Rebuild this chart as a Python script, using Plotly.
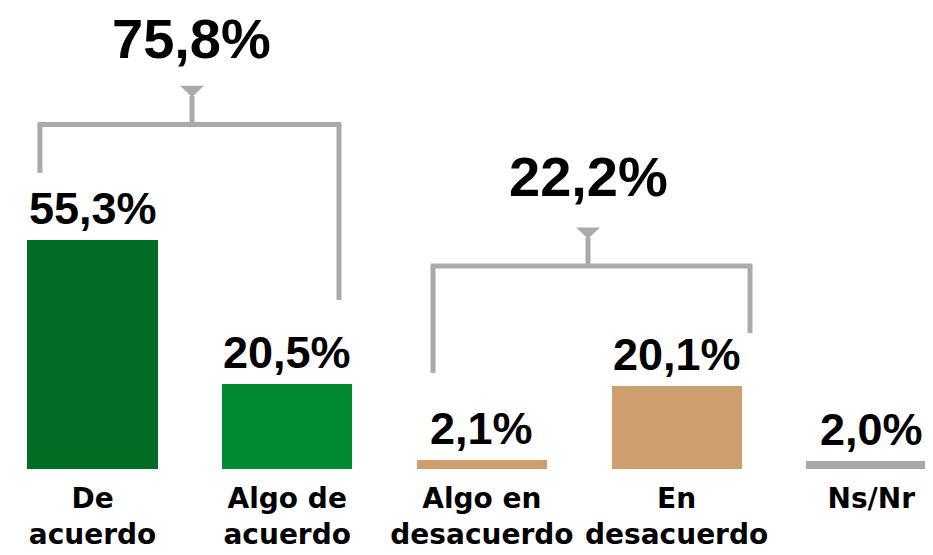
import plotly.graph_objects as go

# ---------------- data ----------------
categories = ["De acuerdo", "Algo de acuerdo", "Algo en desacuerdo", "En desacuerdo", "Ns/Nr"]
tick_labels = ["De<br>acuerdo", "Algo de<br>acuerdo", "Algo en<br>desacuerdo", "En<br>desacuerdo", "Ns/Nr"]
values = [55.3, 20.5, 2.1, 20.1, 2.0]
bar_colors = ["#026C25", "#018A2F", "#CF9E6E", "#CF9E6E", "#A7A9A8"]
group_members = [[0, 1], [2, 3]]
group_totals = [75.8, 22.2]


def fmt(v):
    return f"{v:.1f}".replace(".", ",") + "%"


x = list(range(len(categories)))

fig = go.Figure()
fig.add_trace(go.Bar(
    x=x, y=values, width=0.668,
    marker=dict(color=bar_colors, line=dict(width=0)),
    hoverinfo="skip", showlegend=False,
))

# value labels above the bars
for xi, v in zip(x, values):
    fig.add_annotation(
        x=xi, y=v, xref="x", yref="y", text=fmt(v), showarrow=False,
        yanchor="bottom", yshift=4,
        font=dict(family="Liberation Sans", size=45, color="#000000", weight="bold"),
    )

# bracket geometry (style/position settings, not data)
bracket_geom = [
    dict(left=-0.27, right=1.266, y=83.2, left_end=71.5, right_end=40.8, stem=0.511, shift=14),
    dict(left=1.749, right=3.377, y=49.0, left_end=23.2, right_end=32.8, stem=2.545, shift=18),
]
line_col = "#A9ABAA"
stem_len = 9.3      # data units
tri_h = 2.7
tri_w = 0.062

for g, total in zip(bracket_geom, group_totals):
    ln = dict(color=line_col, width=5)
    fig.add_shape(type="line", x0=g["left"], x1=g["left"], y0=g["left_end"], y1=g["y"], line=ln, xref="x", yref="y")
    fig.add_shape(type="line", x0=g["right"], x1=g["right"], y0=g["right_end"], y1=g["y"], line=ln, xref="x", yref="y")
    fig.add_shape(type="line", x0=g["left"] - 0.012, x1=g["right"] + 0.012, y0=g["y"], y1=g["y"], line=ln, xref="x", yref="y")
    top = g["y"] + stem_len
    fig.add_shape(type="line", x0=g["stem"], x1=g["stem"], y0=g["y"], y1=top - tri_h + 0.3, line=ln, xref="x", yref="y")
    s = g["stem"]
    fig.add_shape(type="path", xref="x", yref="y",
                  path=f"M {s - tri_w},{top} L {s + tri_w},{top} L {s},{top - tri_h} Z",
                  fillcolor=line_col, line=dict(width=0))
    fig.add_annotation(
        x=s, y=top, xref="x", yref="y", text=fmt(total), showarrow=False,
        yanchor="bottom", yshift=g["shift"],
        font=dict(family="Liberation Sans", size=56, color="#000000", weight="bold"),
    )

fig.update_layout(
    width=933, height=555,
    margin=dict(l=0, r=0, t=0, b=94),
    paper_bgcolor="#FFFFFF", plot_bgcolor="#FFFFFF",
    bargap=0,
    xaxis=dict(
        range=[-0.434, 4.358], tickvals=x, ticktext=tick_labels,
        showgrid=False, zeroline=False, showline=False, ticks="",
        ticklabelstandoff=10,
        tickfont=dict(family="DejaVu Sans", size=28, color="#000000", weight="bold"),
        fixedrange=True,
    ),
    yaxis=dict(range=[0, 111.3], visible=False, fixedrange=True),
)

fig.write_html("out.html")
